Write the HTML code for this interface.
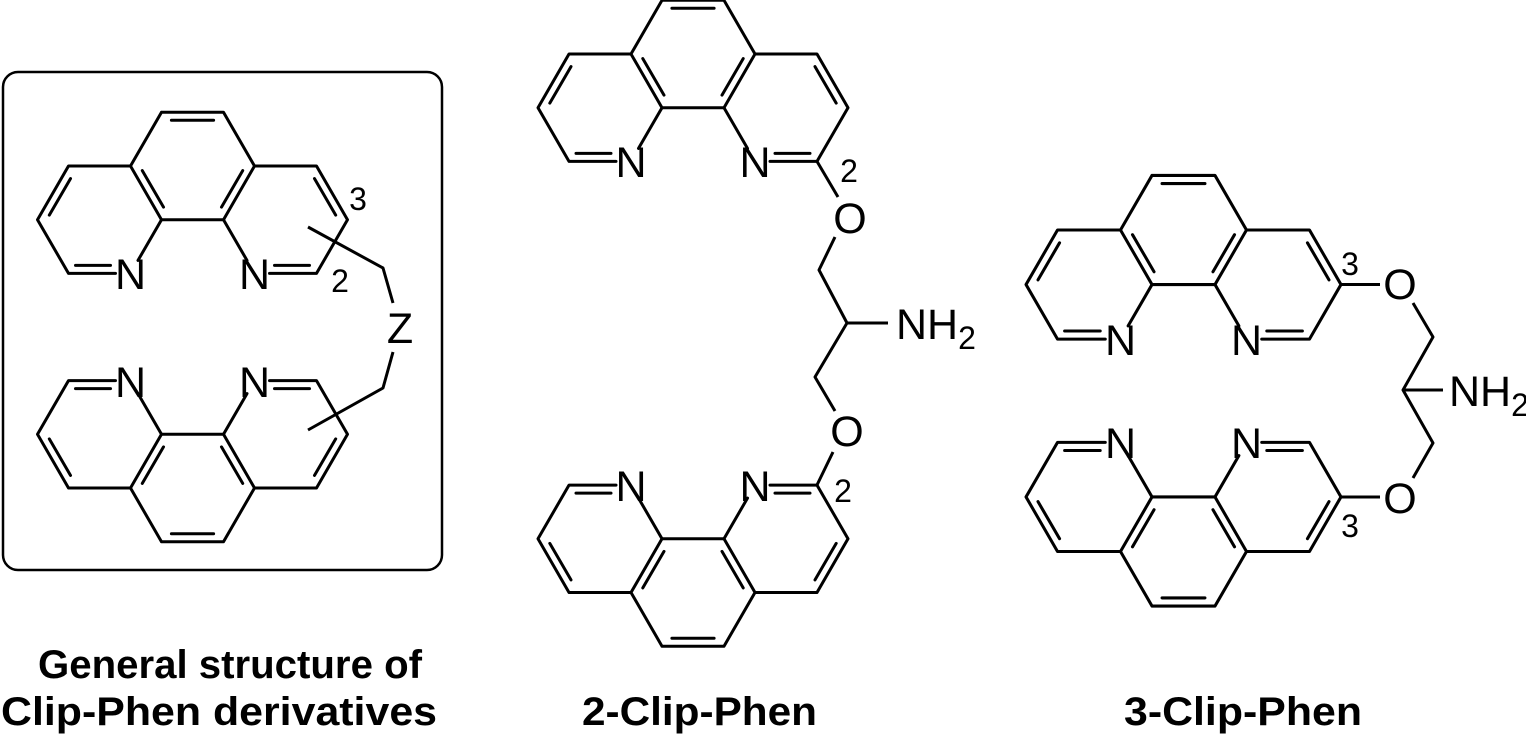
<!DOCTYPE html>
<html><head><meta charset="utf-8"><style>
html,body{margin:0;padding:0;background:#fff;}
svg{display:block;}
text{font-family:"Liberation Sans",Arial,sans-serif;fill:#000;}
</style></head><body>
<svg width="1526" height="735" viewBox="0 0 1526 735" xmlns="http://www.w3.org/2000/svg">
<defs>
<g id="phen" stroke="#000" stroke-width="3" fill="none" stroke-linecap="round" stroke-linejoin="round">
<polyline points="-31,-53.7 31,-53.7 62,0 31,53.7 -31,53.7 -62,0 -31,-53.7"/>
<polyline points="-62,0 -124,0 -155,53.7 -124,107.4 -77,107.4"/>
<line x1="-54.5" y1="94.4" x2="-31" y2="53.7"/>
<polyline points="62,0 124,0 155,53.7 124,107.4 77,107.4"/>
<line x1="54.5" y1="94.4" x2="31" y2="53.7"/>
<line x1="-21.1" y1="-45.7" x2="21.1" y2="-45.7"/>
<line x1="50.2" y1="4.6" x2="29" y2="41.1"/>
<line x1="-29" y1="41.1" x2="-50.2" y2="4.6"/>
<line x1="-122" y1="12.6" x2="-143.2" y2="49.1"/>
<line x1="122" y1="12.6" x2="143.2" y2="49.1"/>
<line x1="-117" y1="99.4" x2="-82" y2="99.4"/>
<line x1="117" y1="99.4" x2="82" y2="99.4"/>
</g>
</defs>

<!-- Box -->
<rect x="3" y="72" width="439" height="498" rx="15" ry="15" fill="none" stroke="#000" stroke-width="2.5"/>
<use href="#phen" transform="translate(192.5,166)"/>
<use href="#phen" transform="translate(192.5,488) scale(1,-1)"/>
<g stroke="#000" stroke-width="3" fill="none" stroke-linejoin="round">
<polyline points="308,227 383,268 393,303"/>
<polyline points="393,352 383,388 308,430"/>
</g>
<g font-size="43" text-anchor="middle">
<text x="130.5" y="289">N</text><text x="254.5" y="289">N</text>
<text x="130.5" y="397">N</text><text x="254.5" y="397">N</text>
<text x="400" y="343">Z</text>
</g>
<g font-size="32" text-anchor="middle">
<text x="358" y="210">3</text>
<text x="340" y="292">2</text>
</g>

<!-- 2-Clip-Phen -->
<use href="#phen" transform="translate(693,54)"/>
<use href="#phen" transform="translate(693,592.5) scale(1,-1)"/>
<g stroke="#000" stroke-width="3" fill="none" stroke-linejoin="round">
<line x1="817" y1="161.4" x2="838" y2="197"/>
<polyline points="835,237 819,270 847,323 815,377 835,411"/>
<line x1="833" y1="452" x2="817" y2="485"/>
<line x1="847" y1="323" x2="888" y2="323"/>
</g>
<g font-size="43" text-anchor="middle">
<text x="631" y="177">N</text><text x="755" y="177">N</text>
<text x="631" y="501">N</text><text x="755" y="501">N</text>
<text x="850" y="233">O</text><text x="847" y="446">O</text>
</g>
<text x="896" y="339" font-size="43">NH<tspan font-size="32" dy="10">2</tspan></text>
<g font-size="32" text-anchor="middle">
<text x="849" y="182">2</text>
<text x="843" y="502">2</text>
</g>

<!-- 3-Clip-Phen -->
<use href="#phen" transform="translate(1183.5,230) scale(1.016)"/>
<use href="#phen" transform="translate(1183.5,551.5) scale(1.016,-1.016)"/>
<g stroke="#000" stroke-width="3" fill="none" stroke-linejoin="round">
<line x1="1341" y1="284.5" x2="1380" y2="284.5"/>
<polyline points="1413,303 1433,337 1403,390 1433,443 1413,478"/>
<line x1="1380" y1="497" x2="1341" y2="497"/>
<line x1="1403" y1="390" x2="1443" y2="390"/>
</g>
<g font-size="43" text-anchor="middle">
<text x="1120.5" y="355">N</text><text x="1246.5" y="355">N</text>
<text x="1120.5" y="458">N</text><text x="1246.5" y="458">N</text>
<text x="1400" y="299">O</text><text x="1400" y="513">O</text>
</g>
<text x="1449" y="406" font-size="43">NH<tspan font-size="32" dy="10">2</tspan></text>
<g font-size="32" text-anchor="middle">
<text x="1350" y="275">3</text>
<text x="1350" y="537">3</text>
</g>

<!-- Titles -->
<g font-size="40" font-weight="bold">
<text x="38" y="678" textLength="384" lengthAdjust="spacingAndGlyphs">General structure of</text>
<text x="1" y="725" textLength="436" lengthAdjust="spacingAndGlyphs">Clip-Phen derivatives</text>
<text x="582" y="725" textLength="235" lengthAdjust="spacingAndGlyphs">2-Clip-Phen</text>
<text x="1124" y="725" textLength="238" lengthAdjust="spacingAndGlyphs">3-Clip-Phen</text>
</g>
</svg>
</body></html>
